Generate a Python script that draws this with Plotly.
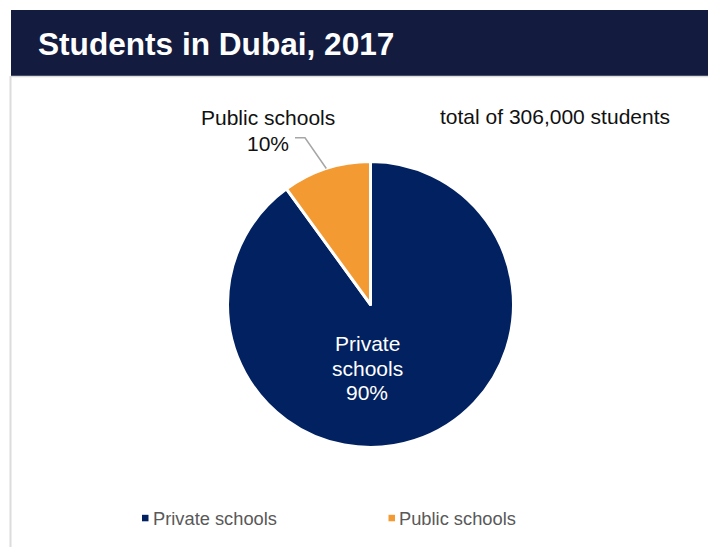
import numpy as np
import plotly.graph_objects as go

# Data
labels = ["Private schools", "Public schools"]
shares = [90, 10]
colors = ["#022160", "#F39A33"]
total_students = "306,000"
title = "Students in Dubai, 2017"

W, H = 708, 547
FONT = "Liberation Sans, Arial, sans-serif"


def px(x):
    return x / W


def py(y):
    return 1 - y / H


# Pie geometry (pixels)
cx, cy, r = 370.5, 304.5, 143.0

fig = go.Figure()
fig.add_trace(go.Pie(
    labels=labels,
    values=shares,
    sort=False,
    direction="clockwise",
    rotation=0,
    marker=dict(colors=colors, line=dict(color="white", width=3)),
    textinfo="none",
    hoverinfo="label+percent",
    showlegend=False,
    domain=dict(x=[px(cx - r), px(cx + r)], y=[py(cy + r), py(cy - r)]),
))

pct = [100 * v / sum(shares) for v in shares]

shapes = []
annotations = []

# Header band
shapes.append(dict(type="rect", xref="paper", yref="paper",
                   x0=px(11), x1=px(708), y0=py(76), y1=py(10),
                   fillcolor="#131C3F", line=dict(width=0), layer="below"))
# Thin frame lines under header and down the left side
shapes.append(dict(type="line", xref="paper", yref="paper",
                   x0=px(11), x1=px(708), y0=py(76.5), y1=py(76.5),
                   line=dict(color="#DCDCDC", width=1.5)))
shapes.append(dict(type="line", xref="paper", yref="paper",
                   x0=px(10.5), x1=px(10.5), y0=py(76), y1=py(547),
                   line=dict(color="#DCDCDC", width=2)))

annotations.append(dict(text=f"<b>{title}</b>", xref="paper", yref="paper",
                        x=px(36), y=py(44), xanchor="left", yanchor="middle",
                        showarrow=False, font=dict(family=FONT, size=31.6, color="white")))

annotations.append(dict(text=f"total of {total_students} students", xref="paper", yref="paper",
                        x=px(555), y=py(116), xanchor="center", yanchor="middle",
                        showarrow=False, font=dict(family=FONT, size=21, color="#111111")))

# Private slice label (inside)
for txt, yy in zip(["Private", "schools", f"{pct[0]:.0f}%"], [343, 368, 392]):
    annotations.append(dict(text=txt, xref="paper", yref="paper",
                            x=px(367.5), y=py(yy), xanchor="center", yanchor="middle",
                            showarrow=False, font=dict(family=FONT, size=21, color="white")))

# Public slice label (outside) with leader line to the slice's outer edge
for txt, yy in zip([labels[1], f"{pct[1]:.0f}%"], [117.5, 143]):
    annotations.append(dict(text=txt, xref="paper", yref="paper",
                            x=px(268), y=py(yy), xanchor="center", yanchor="middle",
                            showarrow=False, font=dict(family=FONT, size=21, color="#111111")))

frac = np.array(shares) / sum(shares)
start = frac[0]
mid_angle = 2 * np.pi * (start + frac[1] / 2)  # clockwise from 12 o'clock
ex = cx + r * np.sin(mid_angle)
ey = cy - r * np.cos(mid_angle)
shapes.append(dict(type="path", xref="paper", yref="paper",
                   path=f"M {px(295)},{py(137.7)} L {px(305)},{py(137.7)} L {px(ex)},{py(ey)}",
                   line=dict(color="#A6A6A6", width=1.5)))

# Legend
legend_items = [(142, 151), (388.5, 397.5)]
for (mx, tx), lab, col in zip(legend_items, labels, colors):
    shapes.append(dict(type="rect", xref="paper", yref="paper",
                       x0=px(mx), x1=px(mx + 6.5), y0=py(521.3), y1=py(514.8),
                       fillcolor=col, line=dict(width=0)))
    annotations.append(dict(text=lab, xref="paper", yref="paper",
                            x=px(tx), y=py(518), xanchor="left", yanchor="middle",
                            showarrow=False, font=dict(family=FONT, size=18.3, color="#595959")))

fig.update_layout(
    width=W, height=H,
    margin=dict(l=0, r=0, t=0, b=0),
    paper_bgcolor="white",
    plot_bgcolor="white",
    shapes=shapes,
    annotations=annotations,
)

fig.write_html("out.html")
